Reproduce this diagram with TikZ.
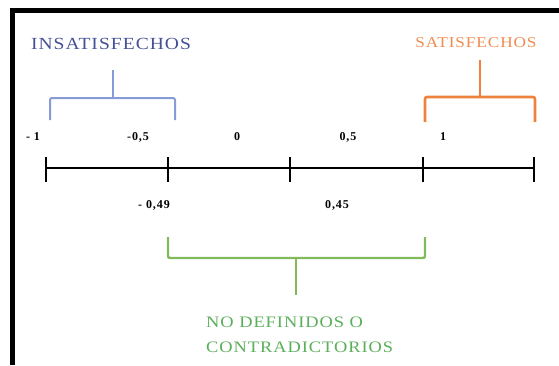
\documentclass[tikz,border=0pt]{standalone}
\usepackage{fontspec}
\setmainfont{Liberation Serif}
\newfontfamily\spacedfont[LetterSpace=6, FakeStretch=1.15]{Liberation Serif}
\newfontfamily\numfont[LetterSpace=8]{Liberation Serif}
\usepackage{tikz}
\usetikzlibrary{positioning}

\definecolor{insblue}{RGB}{70,80,150}
\definecolor{braceblue}{RGB}{135,155,215}
\definecolor{satorange}{RGB}{240,140,80}
\definecolor{braceorange}{RGB}{238,130,60}
\definecolor{nogreen}{RGB}{90,175,90}
\definecolor{bracegreen}{RGB}{130,185,90}

\begin{document}
\begin{tikzpicture}[
    x=1pt, y=-1pt,
    title/.style={font=\spacedfont\fontsize{17}{25}\selectfont, inner sep=0pt},
    ticklabel/.style={font=\numfont\bfseries\fontsize{12}{14}\selectfont, inner sep=0pt},
    brace/.style={line width=2pt, rounded corners=2pt},
    axis/.style={line width=2.2pt}
]
\useasboundingbox (0,0) rectangle (559,365);

% Frame
\draw[line width=5pt] (12.5,365) -- (12.5,10.5) -- (559,10.5);

% Number line
\foreach \n/\x in {1/46, 2/168, 3/290, 4/423, 5/534}
  \coordinate (t\n) at (\x,168);
\draw[axis] (t1) -- (t5);
\foreach \n in {1,...,5}
  \draw[axis] ([yshift=11pt]t\n) -- ([yshift=-14pt]t\n);

% Values
\node[ticklabel] (vm1) at (33,137) {- 1};
\node[ticklabel] (vm05) at (138,137) {-0,5};
\node[ticklabel] (v0) at (237,137) {0};
\node[ticklabel] (v05) at (348,137) {0,5};
\node[ticklabel] (v1) at (443,137) {1};
\node[ticklabel] (vm049) at (154,205) {- 0,49};
\node[ticklabel] (v045) at (337,205) {0,45};

% Groups
\node[title, text=insblue] (ins) at (111,44) {INSATISFECHOS};
\node[title, text=satorange, font=\spacedfont\fontsize{15}{18}\selectfont] (sat) at (476,43) {SATISFECHOS};
\node[title, text=nogreen, align=left, anchor=west, font=\spacedfont\fontsize{16}{25}\selectfont] (nodef) at (206,335) {NO DEFINIDOS O\\CONTRADICTORIOS};

% Brackets
\coordinate (insstem) at (113,98);
\draw[brace, braceblue] (50,120) -- (50,98) -- (175,98) -- (175,120);
\draw[brace, braceblue] (insstem) -- (insstem |- 0,70);

\coordinate (satstem) at (480,97);
\draw[brace, braceorange, line width=2.6pt] (425,122) -- (425,97) -- (535,97) -- (535,122);
\draw[braceorange, line width=2.6pt] (satstem) -- (satstem |- 0,60);

\coordinate (nostem) at (296,258);
\draw[brace, bracegreen, line width=2.4pt] (168,237) -- (168,258) -- (425,258) -- (425,237);
\draw[bracegreen, line width=2.4pt] (nostem) -- (nostem |- 0,295);

\end{tikzpicture}
\end{document}
